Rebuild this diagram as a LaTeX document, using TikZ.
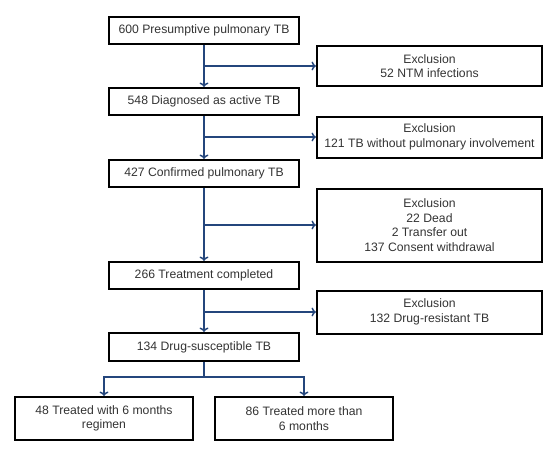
\documentclass[tikz,border=0pt]{standalone}
\usepackage{fontspec}
\setmainfont{Liberation Sans}
\usetikzlibrary{arrows.meta}
\definecolor{navy}{HTML}{24467C}
\definecolor{txt}{HTML}{333333}
\begin{document}
\begin{tikzpicture}[x=1pt,y=-1pt,
  mainbox/.style={draw=black,line width=2pt,minimum width=190pt,minimum height=27pt,inner sep=0pt,text=txt,font=\fontsize{12.2}{14.6}\selectfont,align=center},
  exclbox/.style={draw=black,line width=2pt,minimum width=225pt,inner sep=0pt,text=txt,font=\fontsize{12.2}{14.6}\selectfont,align=center},
  endbox/.style={draw=black,line width=2pt,minimum width=178pt,minimum height=43pt,inner sep=0pt,text=txt,font=\fontsize{12.2}{14.6}\selectfont,align=center},
  arr/.style={draw=navy,line width=1.8pt,-{To[length=4.5pt,width=9pt,line width=1.5pt]}}]
\useasboundingbox (0,0) rectangle (556,458);
\node[mainbox] (b1) at (204,30.5) {600 Presumptive pulmonary TB};
\node[exclbox,minimum height=40pt] (e1) at (429.5,66) {Exclusion\\52 NTM infections};
\node[mainbox] (b2) at (204,101.5) {548 Diagnosed as active TB};
\node[exclbox,minimum height=41pt] (e2) at (429.5,137) {Exclusion\\121 TB without pulmonary involvement};
\node[mainbox] (b3) at (204,173.5) {427 Confirmed pulmonary TB};
\node[exclbox,minimum height=73pt] (e3) at (429.5,225) {Exclusion\\22 Dead\\2 Transfer out\\137 Consent withdrawal};
\node[mainbox] (b4) at (204,275.5) {266 Treatment completed};
\node[exclbox,minimum height=43pt] (e4) at (429.5,312) {Exclusion\\132 Drug-resistant TB};
\node[mainbox,minimum height=28pt] (b5) at (204,347) {134 Drug-susceptible TB};
\node[endbox] (b6) at (104,418.5) {48 Treated with 6 months\\regimen};
\node[endbox] (b7) at (304,418.5) {86 Treated more than\\6 months};
\draw[arr] (b1) -- (b2);
\draw[arr] (b1.south |- e1.west) -- (e1.west);
\draw[arr] (b2) -- (b3);
\draw[arr] (b2.south |- e2.west) -- (e2.west);
\draw[arr] (b3) -- (b4);
\draw[arr] (b3.south |- e3.west) -- (e3.west);
\draw[arr] (b4) -- (b5);
\draw[arr] (b4.south |- e4.west) -- (e4.west);
\coordinate (split) at (204,377);
\draw[arr] (b5.south) -- (split) -| (b6.north);
\draw[arr] (split) -| (b7.north);
\end{tikzpicture}
\end{document}
